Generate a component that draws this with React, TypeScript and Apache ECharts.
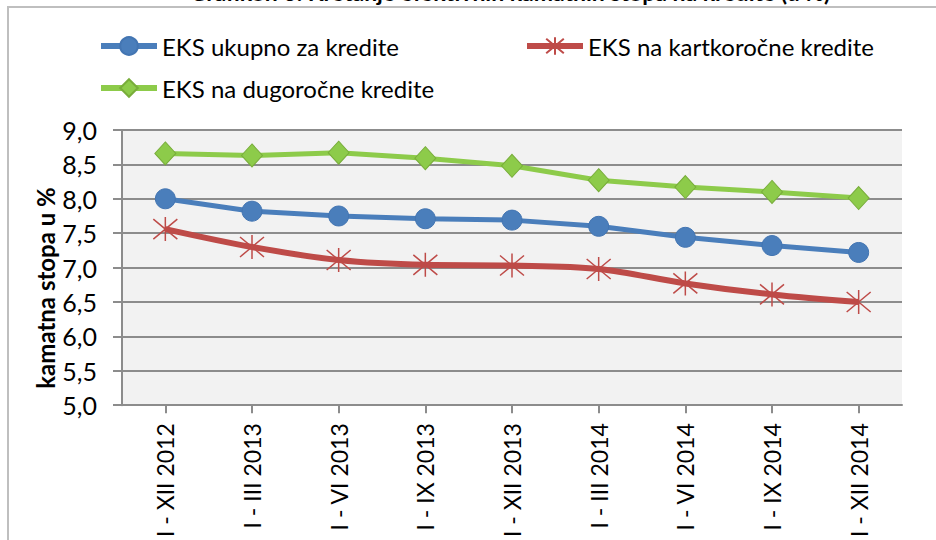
import React, { useEffect, useRef } from "react";
import * as echarts from "echarts";

const categories = [
  "I - XII 2012",
  "I - III 2013",
  "I - VI 2013",
  "I - IX 2013",
  "I - XII 2013",
  "I - III 2014",
  "I - VI 2014",
  "I - IX 2014",
  "I - XII 2014",
];
const ukupno = [8.0, 7.82, 7.75, 7.71, 7.69, 7.6, 7.44, 7.32, 7.22];
const kratkorocne = [7.56, 7.3, 7.11, 7.04, 7.03, 6.98, 6.77, 6.61, 6.5];
const dugorocne = [8.66, 8.63, 8.67, 8.59, 8.48, 8.27, 8.17, 8.1, 8.01];

const seriesNames = [
  "EKS ukupno za kredite",
  "EKS na kartkoročne kredite",
  "EKS na dugoročne kredite",
];
const titleText = "Grafikon 3. Kretanje efektivnih kamatnih stopa na kredite (u %)";
const yAxisTitle = "kamatna stopa u %";

const BLUE = "#4A7EBB";
const RED = "#BE4B48";
const GREEN = "#8DCB4A";
const GRID = "#8C8C8C";
const FONT = "Lato, 'Open Sans', sans-serif";

export default function App() {
  const ref = useRef<HTMLDivElement>(null);
  useEffect(() => {
    if (!ref.current) return;
    const chart = echarts.init(ref.current, null, { renderer: "svg" });
    const legendBase = {
      padding: 0,
      itemWidth: 56,
      itemHeight: 22,
      lineStyle: { width: 6 },
      textStyle: { fontFamily: FONT, fontSize: 24, color: "#000" },
    };
    chart.setOption({
      animation: false,
      backgroundColor: "#fff",
      graphic: [
        {
          type: "rect",
          shape: { x: 8, y: 7, width: 1000, height: 600 },
          style: { fill: "none", stroke: "#BFBFBF", lineWidth: 2 },
          silent: true,
        },
        {
          type: "text",
          x: 510,
          y: 3,
          style: {
            text: titleText,
            fontFamily: FONT,
            fontSize: 23,
            fontWeight: "bold",
            fill: "#000",
            align: "center",
            verticalAlign: "bottom",
          },
        },
        {
          type: "text",
          x: 45,
          y: 288,
          rotation: Math.PI / 2,
          style: {
            text: yAxisTitle,
            fontFamily: FONT,
            fontSize: 24,
            fontWeight: "bold",
            fill: "#000",
            align: "center",
            verticalAlign: "middle",
          },
        },
      ],
      legend: [
        { ...legendBase, data: [seriesNames[0]], left: 98, top: 34 },
        { ...legendBase, data: [seriesNames[1]], left: 524, top: 34 },
        { ...legendBase, data: [seriesNames[2]], left: 98, top: 76 },
      ],
      grid: {
        left: 122,
        right: 34,
        top: 130,
        bottom: 134,
        show: true,
        backgroundColor: "#F2F2F2",
        borderWidth: 0,
      },
      xAxis: {
        type: "category",
        data: categories,
        boundaryGap: true,
        axisLine: { show: true, lineStyle: { color: GRID, width: 2 } },
        axisTick: {
          show: true,
          alignWithLabel: true,
          length: 8,
          lineStyle: { color: GRID, width: 2 },
        },
        axisLabel: {
          rotate: 90,
          margin: 18,
          fontFamily: FONT,
          fontSize: 23,
          color: "#000",
        },
        splitLine: { show: false },
      },
      yAxis: {
        type: "value",
        min: 5,
        max: 9,
        interval: 0.5,
        axisLine: { show: true, lineStyle: { color: GRID, width: 2 } },
        axisTick: { show: true, length: 9, lineStyle: { color: GRID, width: 2 } },
        axisLabel: {
          margin: 25,
          fontFamily: FONT,
          fontSize: 25,
          color: "#000",
          formatter: (v: number) => v.toFixed(1).replace(".", ","),
        },
        splitLine: { show: true, lineStyle: { color: GRID, width: 2 } },
      },
      series: [
        {
          name: seriesNames[0],
          type: "line",
          data: ukupno,
          symbol: "circle",
          symbolSize: 20,
          lineStyle: { color: BLUE, width: 5 },
          itemStyle: { color: BLUE, borderColor: "#4375B2", borderWidth: 1 },
          z: 3,
        },
        {
          name: seriesNames[1],
          type: "line",
          data: kratkorocne,
          smooth: 0.35,
          symbol: "path://M0,0L20,20M20,0L0,20M10,-2L10,22",
          symbolSize: 24,
          lineStyle: { color: RED, width: 6 },
          itemStyle: { color: RED, borderColor: RED, borderWidth: 1.5 },
          z: 2,
        },
        {
          name: seriesNames[2],
          type: "line",
          data: dugorocne,
          symbol: "diamond",
          symbolSize: [21, 23],
          lineStyle: { color: GREEN, width: 5 },
          itemStyle: { color: GREEN, borderColor: "#78AD3A", borderWidth: 1 },
          z: 4,
        },
      ],
    });
    return () => chart.dispose();
  }, []);
  return (
    <div
      ref={ref}
      style={{ position: "fixed", left: 0, top: 0, width: 936, height: 540 }}
    />
  );
}
